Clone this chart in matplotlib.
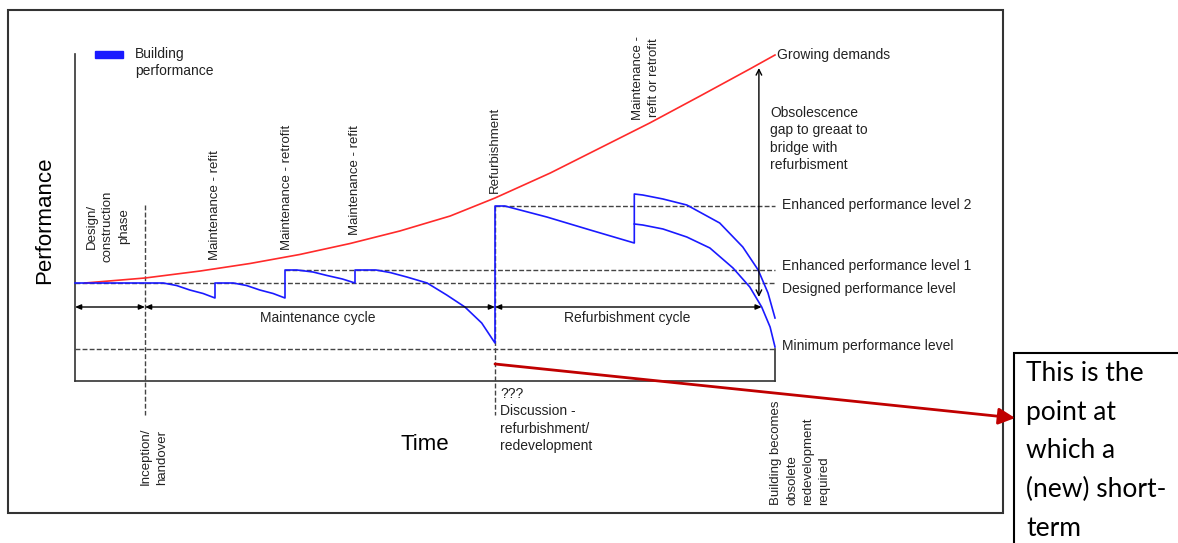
import matplotlib
matplotlib.use("Agg")
import matplotlib.pyplot as plt
from matplotlib.patches import Rectangle

plt.rcParams['font.family'] = ['Liberation Sans', 'DejaVu Sans']

# time axis: 0 = design start, 100 = building obsolete
event_times = [10, 20, 30, 40, 60, 80, 100]

# performance levels (arbitrary units)
designed_level = 98
enhanced_level_1 = 111
enhanced_level_2 = 175
minimum_level = 32
cycle_level = 74

# growing demands (red curve)
demand_t = [1.4, 10, 17.9, 25, 32.1, 39.3, 46.4, 53.6, 60, 67.9, 75, 82.1, 89.3, 96.4, 100]
demand_p = [98, 103, 110, 117.5, 126.5, 137.5, 150, 165, 183, 208, 233, 258, 285, 312, 326]

# building performance (blue), main path up to the last maintenance
perf_t = [0, 12.6, 14.5, 16.4, 18.3, 20, 20, 22.6, 24.5, 26.4, 28.3, 30, 30,
          31.7, 34, 36, 38.2, 40, 40, 43, 45, 47.4, 50.3, 53.1, 55.7, 58.1, 59.9,
          60, 60, 61.4, 67.4, 73.6, 79.9, 79.9,
          81.1, 84, 87.4, 92.1, 95.4, 97.6, 99, 100]
perf_p = [98, 98, 95.5, 91, 87.5, 83, 98, 98, 95.5, 91, 87.5, 83, 111,
          111, 109, 105.5, 102, 98, 111, 111, 108.5, 104, 98, 86, 74, 58, 39,
          38, 175, 175, 164, 151, 138, 187,
          186, 182, 176, 158, 134, 111, 88, 63]

# alternative path after maintenance at t=80
alt_t = [79.9, 81.1, 84, 87.4, 90.7, 94, 96.4, 98.1, 99.3, 100]
alt_p = [157, 156, 152, 144, 133, 113, 94, 74, 54, 34]

fig = plt.figure(figsize=(11.78, 5.43), dpi=100)
ax = fig.add_axes([0, 0, 1, 1])
ax.set_xlim(-75 / 7, 1103 / 7)
ax.set_ylim(-162, 381)
ax.axis('off')

txt = '#222222'
dash = (0, (3.5, 1.6))
grey = '#444444'

# outer frame and text box
ax.add_patch(Rectangle((0.0068, 0.0552), 0.8447, 0.9263, transform=ax.transAxes,
                       fill=False, ec='#333333', lw=1.5))
ax.add_patch(Rectangle((0.8608, -0.1), 0.3, 0.4499, transform=ax.transAxes,
                       fill=False, ec='black', lw=1.5))

# inner axes lines
ax.plot([0, 0], [0, 327], color='#333333', lw=1.2)
ax.plot([0, 100], [0, 0], color='#333333', lw=1.2)
ax.plot([100, 100], [0, minimum_level], color='#333333', lw=1.2)

# level lines
ax.plot([0, 100], [designed_level] * 2, color=grey, lw=1, ls=dash)
ax.plot([30, 100], [enhanced_level_1] * 2, color=grey, lw=1, ls=dash)
ax.plot([60, 100], [enhanced_level_2] * 2, color=grey, lw=1, ls=dash)
ax.plot([0, 100], [minimum_level] * 2, color=grey, lw=1, ls=dash)
ax.plot([event_times[0]] * 2, [176, -34], color=grey, lw=1, ls=dash)
ax.plot([event_times[4]] * 2, [175, -34], color=grey, lw=1, ls=dash)

# curves
ax.plot(demand_t, demand_p, color='#ff2a2a', lw=1.2)
ax.plot(perf_t, perf_p, color='#1a1aff', lw=1.2)
ax.plot(alt_t, alt_p, color='#1a1aff', lw=1.2)

# cycle arrows
cyc = dict(arrowstyle='<|-|>,head_length=0.35,head_width=0.15', color='black', lw=1,
           shrinkA=0, shrinkB=0)
for a, b in [(0, 10), (10, 60), (60, 98.1)]:
    ax.annotate('', xy=(a, cycle_level), xytext=(b, cycle_level), arrowprops=cyc)
ax.annotate('', xy=(97.7, 313), xytext=(97.7, 84),
            arrowprops=dict(arrowstyle='<->,head_length=0.4,head_width=0.2',
                            color='black', lw=1, shrinkA=0, shrinkB=0))

# red pointer to the text box
ax.annotate('', xy=(134.3, -37), xytext=(60, 17),
            arrowprops=dict(arrowstyle='-|>,head_length=1.0,head_width=0.5',
                            color='#c00000', lw=2, shrinkA=0, shrinkB=0))

# legend
ax.add_patch(Rectangle((2.9, 323), 4, 7, color='#1a1aff'))
ax.text(8.6, 334, 'Building\nperformance', fontsize=10, color=txt, va='top', ha='left',
        linespacing=1.25)

ax.text(-4.3, 161, 'Performance', fontsize=16, rotation=90, ha='center', va='center',
        color='black')
ax.text(50, -64, 'Time', fontsize=16, ha='center', va='center', color='black')

# rotated event labels
rot = dict(fontsize=9.5, rotation=90, color=txt, va='bottom', ha='center')
ax.text(4.7, 119, 'Design/\nconstruction\nphase', multialignment='center',
        linespacing=1.45, **rot)
ax.text(20, 121, 'Maintenance - refit', **rot)
ax.text(30.3, 131, 'Maintenance - retrofit', **rot)
ax.text(40, 146, 'Maintenance - refit', **rot)
ax.text(60, 188, 'Refurbishment', **rot)
ax.text(81.6, 261, 'Maintenance -\nrefit or retrofit', multialignment='center',
        linespacing=1.45, **rot)
ax.text(11.3, -104, 'Inception/\nhandover', multialignment='left',
        linespacing=1.45, **rot)
ax.text(103.6, -124, 'Building becomes\nobsolete\nredevelopment\nrequired',
        multialignment='left', linespacing=1.45, **rot)

# horizontal labels
hl = dict(fontsize=10, color=txt, va='center', ha='left')
ax.text(100.3, 326, 'Growing demands', **hl)
ax.text(99.3, 275, 'Obsolescence\ngap to greaat to\nbridge with\nrefurbisment',
        fontsize=10, color=txt, va='top', ha='left', linespacing=1.3)
ax.text(101, 176, 'Enhanced performance level 2', **hl)
ax.text(101, 115, 'Enhanced performance level 1', **hl)
ax.text(101, 92, 'Designed performance level', **hl)
ax.text(101, 35, 'Minimum performance level', **hl)
ax.text(34.7, 63, 'Maintenance cycle', fontsize=10, color=txt, ha='center', va='center')
ax.text(78.9, 63, 'Refurbishment cycle', fontsize=10, color=txt, ha='center', va='center')
ax.text(60.7, -6, '???\nDiscussion -\nrefurbishment/\nredevelopment', fontsize=10,
        color=txt, ha='left', va='top', linespacing=1.3)

ax.text(135.9, 20, 'This is the\npoint at\nwhich a\n(new) short-\nterm', fontsize=19,
        family=['Lato', 'DejaVu Sans'], color='black', ha='left', va='top',
        linespacing=1.68)

fig.savefig('out.png', dpi=100)
